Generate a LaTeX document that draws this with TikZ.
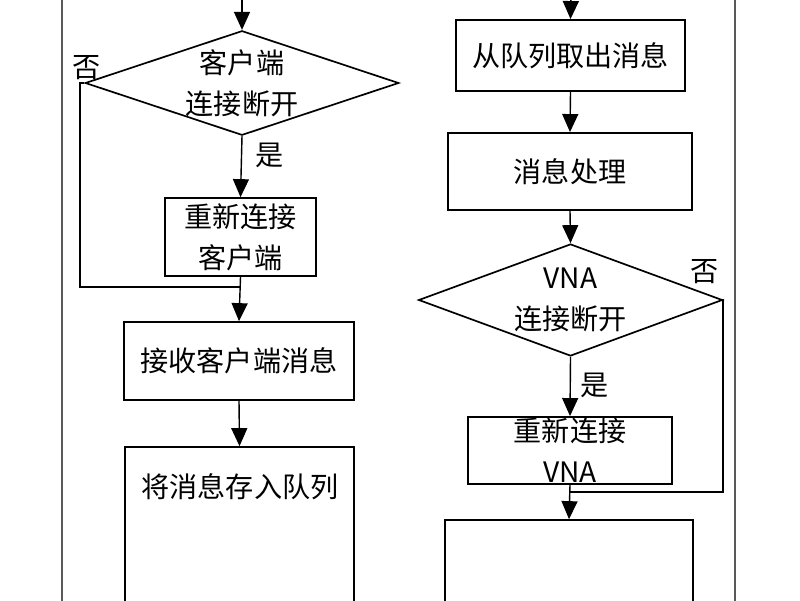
\documentclass[tikz,border=0pt]{standalone}
\usepackage{fontspec}
\setmainfont{Noto Sans CJK SC}
\usetikzlibrary{shapes.geometric,arrows.meta}
\tikzset{procbox/.style={rectangle,draw,line width=1.2pt,inner sep=0pt,align=center},
  decbox/.style={diamond,draw,line width=1.2pt,inner sep=0pt,aspect=3,align=center},
  flow/.style={-{Triangle[length=4.5mm,width=4mm]},line width=1pt},
  plain/.style={line width=1pt},
  lbl/.style={inner sep=0pt},
}

\begin{document}
\begin{tikzpicture}[x=0.025cm,y=-0.025cm,font=\fontsize{20}{29}\selectfont]
		\useasboundingbox (0,0) rectangle (800,600);
		\clip (0,0) rectangle (800,600);
		% outer frame
		\draw[line width=0.8pt,gray!70!black] (62,-10) -- (62,610);
		\draw[line width=0.8pt,gray!70!black] (735,-10) -- (735,610);
		% left column
		\coordinate (ltop) at (242,-10);
		\node[decbox,minimum width=7.33cm,minimum height=2.45cm] (dcli) at (242,83) {客户端\\连接断开};
		\node[procbox,minimum width=3.78cm,minimum height=1.95cm] (recli) at (240.5,237) {重新连接\\客户端};
		\coordinate (lmerge) at (240.5,287);
		\coordinate (lbend1) at (80,83);
		\coordinate (lbend2) at (80,287);
		\node[procbox,minimum width=5.75cm,minimum height=1.95cm] (recv) at (239,361) {接收客户端消息};
		\node[procbox,minimum width=5.73cm,minimum height=4.3cm] (store) at (239.5,533) {};
		\node[lbl] (storetxt) at (240,487) {将消息存入队列};
		\node[lbl] (nol) at (87,68) {否};
		\node[lbl] (yesl) at (270,155) {是};
		% right column
		\coordinate (rtop) at (571,-10);
		\node[procbox,minimum width=5.73cm,minimum height=1.78cm] (fetch) at (570.5,55.5) {从队列取出消息};
		\node[procbox,minimum width=6.1cm,minimum height=1.93cm] (proc) at (570,171.5) {消息处理};
		\node[decbox,minimum width=7.28cm,minimum height=2.8cm] (dvna) at (570.5,300) {VNA\\连接断开};
		\node[procbox,minimum width=5.1cm,minimum height=1.68cm] (revna) at (570,450.5) {重新连接\\VNA};
		\coordinate (rmerge) at (570,492);
		\coordinate (rbend1) at (723,300);
		\coordinate (rbend2) at (723,492);
		\node[procbox,minimum width=6.2cm,minimum height=2.5cm] (next) at (569,570) {};
		\node[lbl] (nor) at (705,272) {否};
		\node[lbl] (yesr) at (595,385) {是};

		\draw[flow] (ltop) -- (dcli.north);
		\draw[flow] (dcli.south) -- (recli.north);
		\draw[plain] (dcli.west) -- (lbend1) -- (lbend2) -- (lmerge);
		\draw[flow] (recli.south) -- (recv.north);
		\draw[flow] (recv.south) -- (store.north);
		\draw[flow] (rtop) -- (fetch.north);
		\draw[flow] (fetch.south) -- (proc.north);
		\draw[flow] (proc.south) -- (dvna.north);
		\draw[flow] (dvna.south) -- (revna.north);
		\draw[plain] (dvna.east) -- (rbend1) -- (rbend2) -- (rmerge);
		\draw[flow] (revna.south) -- (next.north);
	\end{tikzpicture}
\end{document}
